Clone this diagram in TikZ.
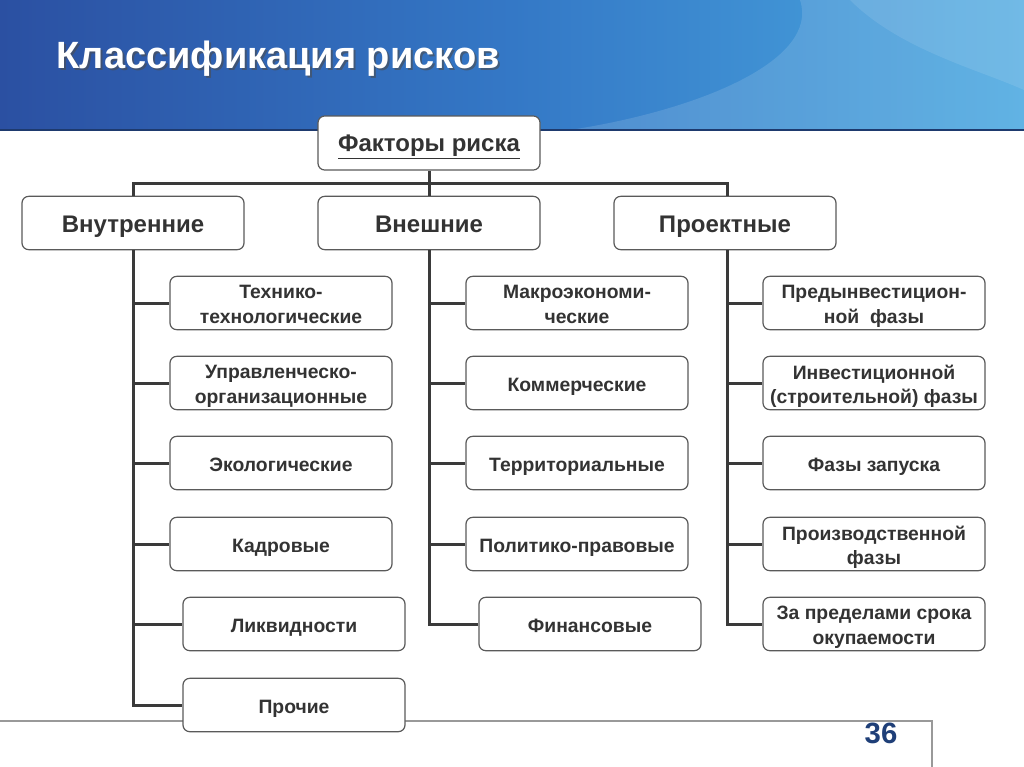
\documentclass[tikz,border=0pt]{standalone}
\usepackage{fontspec}
\setmainfont{Liberation Sans}
\usetikzlibrary{calc}
\definecolor{linec}{HTML}{3A3A3A}
\definecolor{boxc}{HTML}{5A5A5A}
\definecolor{txtc}{HTML}{333333}
\definecolor{hdA}{HTML}{2B50A2}
\definecolor{hdB}{HTML}{3478C6}
\definecolor{hdC}{HTML}{4AA8E0}
\definecolor{hdLine}{HTML}{1E3A6E}
\definecolor{numc}{HTML}{1F3F78}
\newcommand\bigstrut{\rule[-5pt]{0pt}{23.5pt}}
\newcommand\substrut{\rule[-4.6pt]{0pt}{22.5pt}}
\newcommand\twostrut{\rule[-4.6pt]{0pt}{18pt}}
\tikzset{
  conn/.style={draw=linec, line width=2.25pt},
  boxbase/.style={draw=boxc, line width=0.9pt, fill=white, rounded corners=5pt,
    minimum width=166.5pt, minimum height=40pt, inner sep=0pt, align=center,
    text=txtc},
  bigbox/.style={boxbase, font=\fontsize{18}{21}\selectfont\bfseries,
    execute at begin node=\bigstrut, execute at end node=\bigstrut},
  subbox/.style={boxbase, font=\fontsize{14.5}{18}\selectfont\bfseries,
    execute at begin node=\substrut, execute at end node=\substrut},
  twotext/.style={inner sep=0pt, align=center, text=txtc,
    font=\fontsize{14.5}{18.5}\selectfont\bfseries,
    execute at begin node=\twostrut, execute at end node=\twostrut},
}
\newcommand\twobox[3]{%
  \node[subbox] (#1) at (#2) {};
  \node[twotext] (#1t) at ($(#1)+(0,4.5)$) {#3};}
\begin{document}
\begin{tikzpicture}[x=0.75pt,y=-0.75pt]
\useasboundingbox (0,0) rectangle (1024,767);
% background
\fill[white] (0,0) rectangle (1024,767);
\shade[left color=hdA, right color=hdC, middle color=hdB] (0,0) rectangle (1024,130);
\fill[white, opacity=0.13] (800,0) .. controls (820,60) and (700,110) .. (570,130) -- (1024,130) -- (1024,0) -- cycle;
\fill[white, opacity=0.10] (850,0) .. controls (900,50) and (980,70) .. (1024,90) -- (1024,0) -- cycle;
\draw[hdLine, line width=1.6pt] (0,130) -- (1024,130);
% title
\node[anchor=west, text=black!70, opacity=0.6, font=\fontsize{28.5}{34}\selectfont\bfseries] at (54,61) {Классификация рисков};
\node[anchor=west, text=white, font=\fontsize{28.5}{34}\selectfont\bfseries] (title) at (52,59) {Классификация рисков};
% footer lines
\draw[gray!80, line width=0.9pt] (0,721) -- (932,721) -- (932,767);
\node[text=numc, font=\fontsize{22}{26}\selectfont\bfseries] (num) at (881,733) {36};
% nodes
\node[bigbox, minimum height=40.5pt] (top) at (429,143) {\underline{Факторы риска}};
\node[bigbox] (vn) at (133,223) {Внутренние};
\node[bigbox] (ex) at (429,223) {Внешние};
\node[bigbox] (pr) at (725,223) {Проектные};
% connectors top
\coordinate (bus) at (429,183);
\coordinate (prs) at (727,250);
\draw[conn] (top.south) -- (ex.north);
\draw[conn] (vn.north) |- (bus) -| (prs |- pr.north);
% column 1
\twobox{a1}{281,303}{Технико-\\технологические}
\twobox{a2}{281,383}{Управленческо-\\организационные}
\node[subbox] (a3) at (281,463) {Экологические};
\node[subbox] (a4) at (281,544) {Кадровые};
\node[subbox] (a5) at (294,624) {Ликвидности};
\node[subbox] (a6) at (294,705) {Прочие};
% column 2
\twobox{b1}{577,303}{Макроэкономи-\\ческие}
\node[subbox] (b2) at (577,383) {Коммерческие};
\node[subbox] (b3) at (577,463) {Территориальные};
\node[subbox] (b4) at (577,544) {Политико-правовые};
\node[subbox] (b5) at (590,624) {Финансовые};
% column 3
\twobox{c1}{874,303}{Предынвестицион-\\ной\ \ фазы}
\twobox{c2}{874,383}{Инвестиционной\\(строительной) фазы}
\node[subbox] (c3) at (874,463) {Фазы запуска};
\twobox{c4}{874,544}{Производственной\\фазы}
\twobox{c5}{874,624}{За пределами срока\\окупаемости}
% column connectors
\draw[conn] (vn.south) |- (a6.west);
\foreach \n in {a1,a2,a3,a4,a5} \draw[conn] (vn.south |- \n.west) -- (\n.west);
\draw[conn] (ex.south) |- (b5.west);
\foreach \n in {b1,b2,b3,b4} \draw[conn] (ex.south |- \n.west) -- (\n.west);
\draw[conn] (prs) |- (c5.west);
\foreach \n in {c1,c2,c3,c4} \draw[conn] (prs |- \n.west) -- (\n.west);
\end{tikzpicture}
\end{document}
